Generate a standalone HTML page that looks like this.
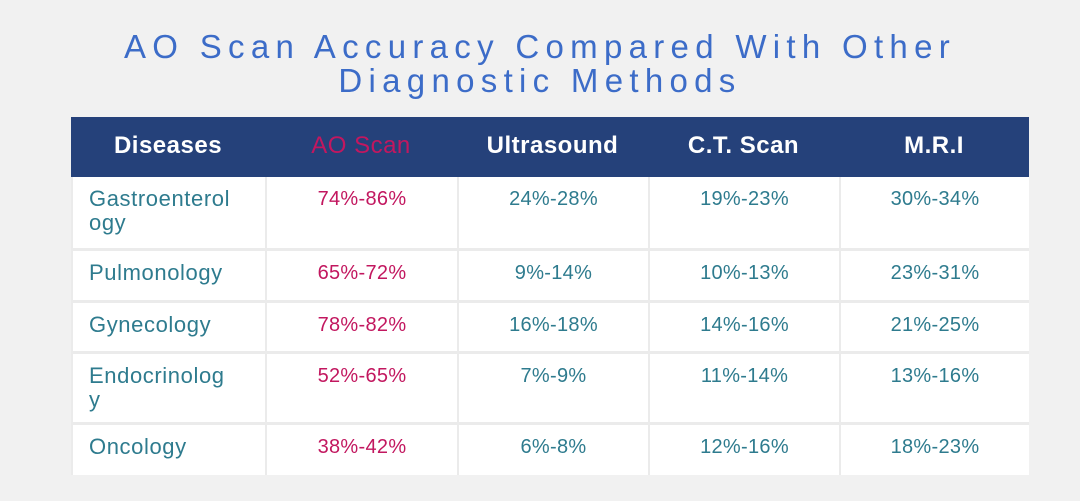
<!DOCTYPE html>
<html><head><meta charset="utf-8"><style>
body{margin:0;width:1080px;height:501px;background:#f1f1f1;font-family:"Liberation Sans",sans-serif;position:relative;overflow:hidden}
.t{position:absolute;left:0;width:1080px;text-align:center;color:#3c6cc8;font-size:33px;letter-spacing:6.3px;line-height:34px}
#tbl{position:absolute;left:71px;top:117px;width:958px;height:358px;background:#ebebeb}
.h{position:absolute;top:0;height:60px;background:#25417a}
.c{position:absolute;background:#fff;font-size:21px;color:#2e7b8e;box-sizing:border-box;padding-top:10px;text-align:center;line-height:24px;white-space:pre-line}
.hc{position:absolute;top:0;height:60px;line-height:58px;text-align:center;color:#fff;font-size:24px;font-weight:bold;letter-spacing:0.5px}
</style></head><body>
<div class="t" style="top:30px">AO Scan Accuracy Compared With Other<br>Diagnostic Methods</div>
<div id="tbl"></div>
<script>
const headers=["Diseases","AO Scan","Ultrasound","C.T. Scan","M.R.I"];
const diseases=["Gastroenterol\nogy","Pulmonology","Gynecology","Endocrinolog\ny","Oncology"];
const aoScan=["74%-86%","65%-72%","78%-82%","52%-65%","38%-42%"];
const ultrasound=["24%-28%","9%-14%","16%-18%","7%-9%","6%-8%"];
const ctScan=["19%-23%","10%-13%","14%-16%","11%-14%","12%-16%"];
const mri=["30%-34%","23%-31%","21%-25%","13%-16%","18%-23%"];
const colX=[0,194,386,577,768,958];
const rowY=[60,131,183,234,305,358];
const tbl=document.getElementById('tbl');
const hb=document.createElement('div');hb.className='h';hb.style.left='0';hb.style.width='958px';


tbl.appendChild(hb);
headers.forEach((h,i)=>{const d=document.createElement('div');d.className='hc';
d.style.left=colX[i]+'px';d.style.width=(colX[i+1]-colX[i])+'px';d.textContent=h;
if(i==1){d.style.color='#c2175f';d.style.fontWeight='normal';}


tbl.appendChild(d);});
const cols=[diseases,aoScan,ultrasound,ctScan,mri];
for(let r=0;r<5;r++){for(let c=0;c<5;c++){const d=document.createElement('div');d.className='c';
const x0=colX[c]+2,x1=colX[c+1];const y0=rowY[r]+(r?3:0),y1=rowY[r+1];
d.style.left=x0+'px';d.style.width=(x1-x0)+'px';d.style.top=y0+'px';d.style.height=(y1-y0)+'px';
d.textContent=cols[c][r];
if(c==0){d.style.textAlign='left';d.style.paddingLeft='16px';d.style.fontSize='22px';d.style.letterSpacing='0.6px';}
else{d.style.fontSize='20px';d.style.letterSpacing='0.3px';}
if(c==1)d.style.color='#c2175f';


tbl.appendChild(d);}}
</script>
</body></html>
